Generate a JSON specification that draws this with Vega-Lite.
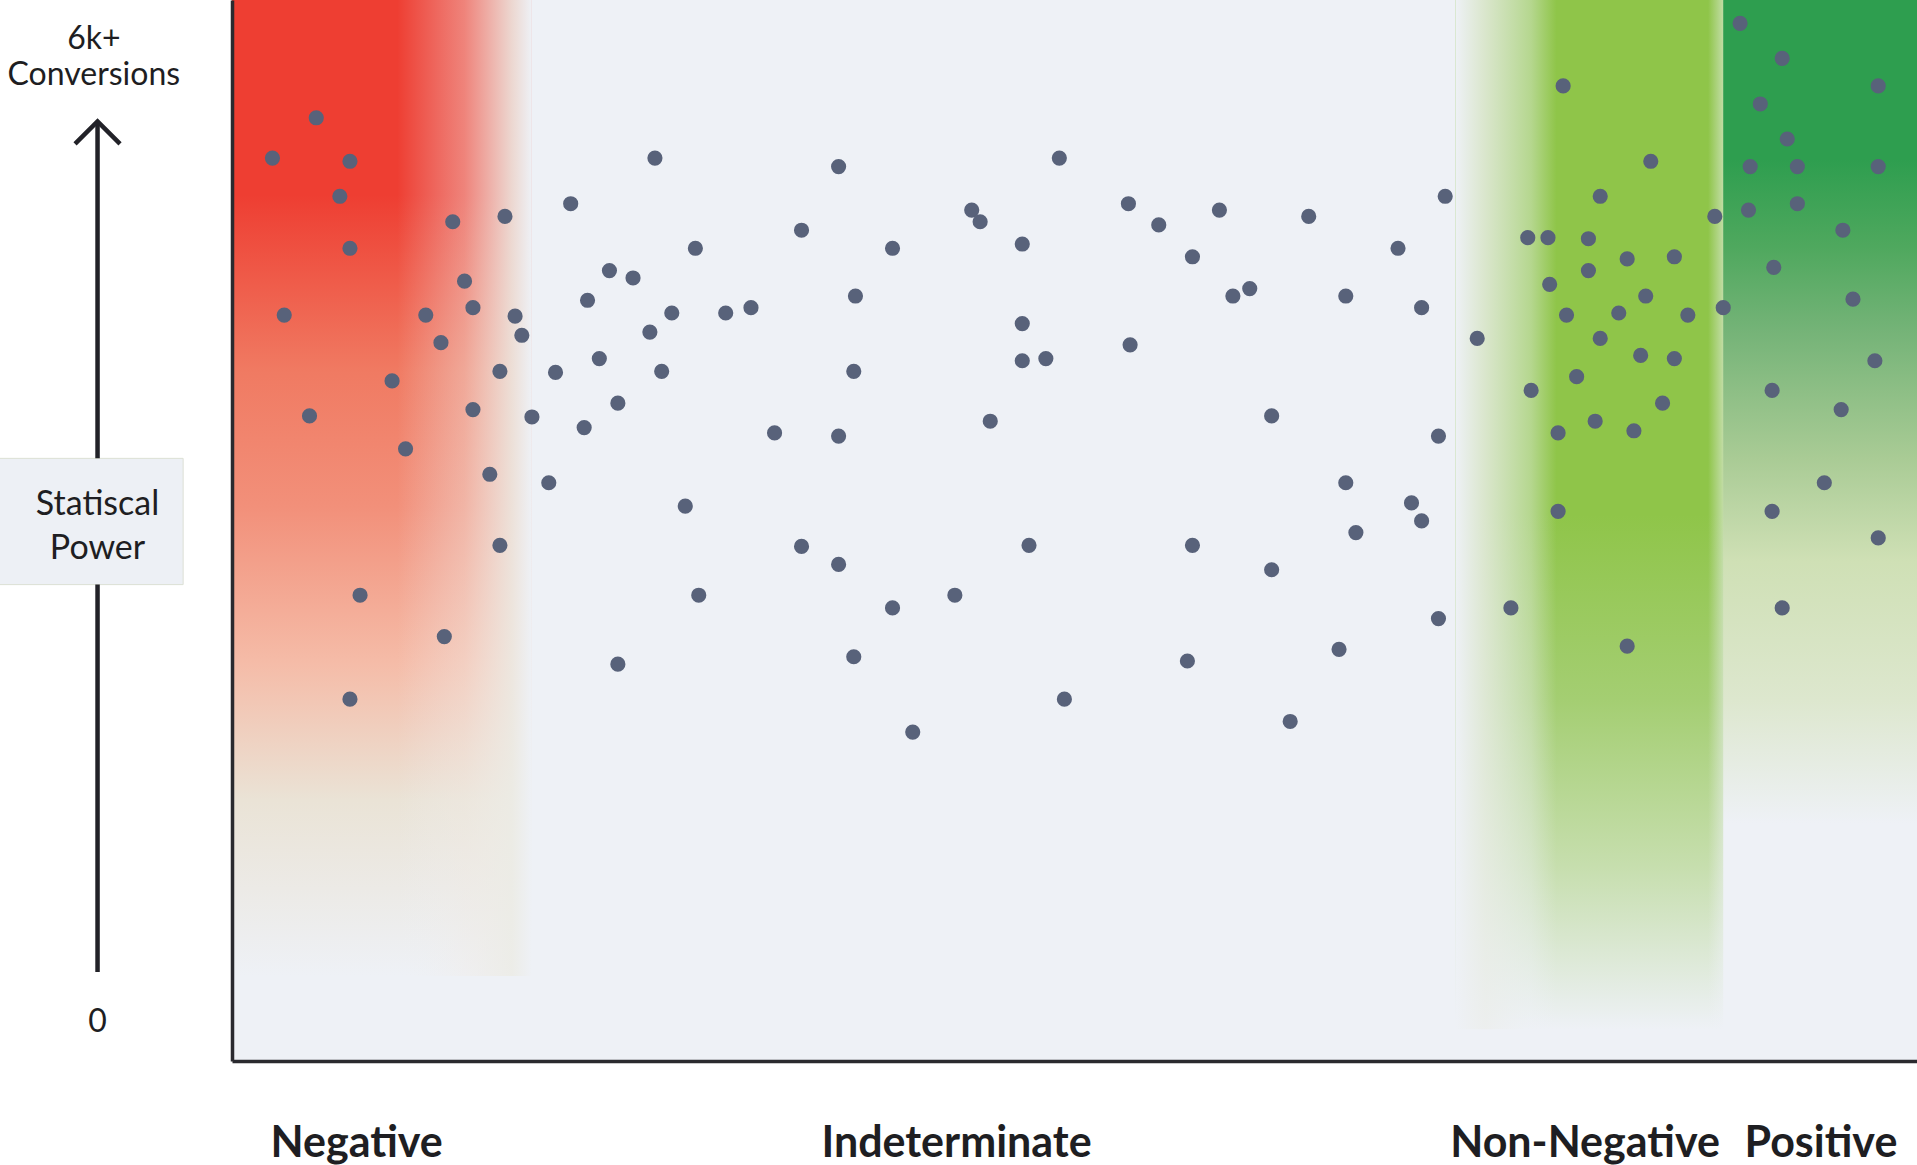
{
  "$schema": "https://vega.github.io/schema/vega-lite/v6.json",
  "width": 1685,
  "height": 1061,
  "autosize": {"type": "none"},
  "padding": {"left": 232, "top": 0, "right": 0, "bottom": 104},
  "background": "#ffffff",
  "config": {
    "view": {"stroke": null, "fill": "#EEF1F6"},
    "axis": {
      "labels": false,
      "ticks": false,
      "grid": false,
      "domainColor": "#2A2A2F",
      "domainWidth": 3.5
    },
    "text": {"font": "Lato", "color": "#1E1E22"}
  },
  "datasets": {
    "tests": [
      {"effect": 2.4, "power": 85.1}, {"effect": 5.0, "power": 88.9}, {"effect": 7.0, "power": 84.8},
      {"effect": 6.4, "power": 81.5}, {"effect": 7.0, "power": 76.6}, {"effect": 3.1, "power": 70.3},
      {"effect": 4.6, "power": 60.8}, {"effect": 9.5, "power": 64.1}, {"effect": 10.3, "power": 57.7},
      {"effect": 7.6, "power": 43.9}, {"effect": 7.0, "power": 34.1}, {"effect": 12.6, "power": 40.0},
      {"effect": 11.5, "power": 70.3}, {"effect": 12.4, "power": 67.7}, {"effect": 13.1, "power": 79.1},
      {"effect": 13.8, "power": 73.5}, {"effect": 14.3, "power": 71.0}, {"effect": 14.3, "power": 61.4},
      {"effect": 15.3, "power": 55.3}, {"effect": 15.9, "power": 65.0}, {"effect": 15.9, "power": 48.6},
      {"effect": 16.2, "power": 79.6}, {"effect": 16.8, "power": 70.2}, {"effect": 17.2, "power": 68.4},
      {"effect": 17.8, "power": 60.7}, {"effect": 18.8, "power": 54.5}, {"effect": 19.2, "power": 64.9},
      {"effect": 20.1, "power": 80.8}, {"effect": 20.9, "power": 59.7}, {"effect": 21.1, "power": 71.7},
      {"effect": 21.8, "power": 66.2}, {"effect": 22.4, "power": 74.5}, {"effect": 22.9, "power": 62.0},
      {"effect": 22.9, "power": 37.4}, {"effect": 23.8, "power": 73.8}, {"effect": 24.8, "power": 68.7},
      {"effect": 25.1, "power": 85.1}, {"effect": 25.5, "power": 65.0}, {"effect": 26.1, "power": 70.5},
      {"effect": 26.9, "power": 52.3}, {"effect": 27.5, "power": 76.6}, {"effect": 27.7, "power": 43.9},
      {"effect": 29.3, "power": 70.5}, {"effect": 30.8, "power": 71.0}, {"effect": 32.2, "power": 59.2},
      {"effect": 33.8, "power": 78.3}, {"effect": 33.8, "power": 48.5}, {"effect": 36.0, "power": 84.3},
      {"effect": 36.0, "power": 58.9}, {"effect": 36.0, "power": 46.8}, {"effect": 37.0, "power": 72.1},
      {"effect": 36.9, "power": 65.0}, {"effect": 36.9, "power": 38.1}, {"effect": 39.2, "power": 76.6},
      {"effect": 39.2, "power": 42.7}, {"effect": 40.4, "power": 31.0}, {"effect": 42.9, "power": 43.9},
      {"effect": 43.9, "power": 80.2}, {"effect": 44.4, "power": 79.1}, {"effect": 45.0, "power": 60.3},
      {"effect": 46.9, "power": 77.0}, {"effect": 46.9, "power": 69.5}, {"effect": 46.9, "power": 66.0},
      {"effect": 47.3, "power": 48.6}, {"effect": 48.3, "power": 66.2}, {"effect": 49.1, "power": 85.1},
      {"effect": 49.4, "power": 34.1}, {"effect": 53.2, "power": 80.8}, {"effect": 53.3, "power": 67.5},
      {"effect": 55.0, "power": 78.8}, {"effect": 57.0, "power": 75.8}, {"effect": 57.0, "power": 48.6},
      {"effect": 56.7, "power": 37.7}, {"effect": 58.6, "power": 80.2}, {"effect": 59.4, "power": 72.1},
      {"effect": 60.4, "power": 72.8}, {"effect": 61.7, "power": 60.8}, {"effect": 61.7, "power": 46.3},
      {"effect": 62.8, "power": 32.0}, {"effect": 63.9, "power": 79.6}, {"effect": 65.7, "power": 38.8},
      {"effect": 66.1, "power": 72.1}, {"effect": 66.1, "power": 54.5}, {"effect": 66.7, "power": 49.8},
      {"effect": 69.2, "power": 76.6}, {"effect": 70.0, "power": 52.6}, {"effect": 70.6, "power": 71.0},
      {"effect": 70.6, "power": 50.9}, {"effect": 71.6, "power": 58.9}, {"effect": 71.6, "power": 41.7},
      {"effect": 72.0, "power": 81.5}, {"effect": 73.9, "power": 68.1},
      {"effect": 75.9, "power": 42.7}, {"effect": 76.9, "power": 77.6}, {"effect": 77.1, "power": 63.2},
      {"effect": 78.1, "power": 77.6}, {"effect": 78.2, "power": 73.2}, {"effect": 78.7, "power": 59.2},
      {"effect": 78.7, "power": 51.8}, {"effect": 79.0, "power": 91.9}, {"effect": 79.2, "power": 70.3},
      {"effect": 79.8, "power": 64.5}, {"effect": 80.5, "power": 77.5}, {"effect": 80.5, "power": 74.5},
      {"effect": 80.9, "power": 60.3}, {"effect": 81.2, "power": 81.5}, {"effect": 81.2, "power": 68.1},
      {"effect": 82.3, "power": 70.5}, {"effect": 82.8, "power": 75.6}, {"effect": 82.8, "power": 39.1},
      {"effect": 83.2, "power": 59.4}, {"effect": 83.6, "power": 66.5}, {"effect": 83.9, "power": 72.1},
      {"effect": 84.2, "power": 84.8}, {"effect": 84.9, "power": 62.0}, {"effect": 85.6, "power": 75.8},
      {"effect": 85.6, "power": 66.2}, {"effect": 86.4, "power": 70.3}, {"effect": 88.0, "power": 79.6},
      {"effect": 88.5, "power": 71.0},
      {"effect": 89.5, "power": 97.8}, {"effect": 90.7, "power": 90.2}, {"effect": 92.0, "power": 94.5},
      {"effect": 90.1, "power": 84.3}, {"effect": 90.0, "power": 80.2}, {"effect": 91.5, "power": 74.8},
      {"effect": 92.3, "power": 86.9}, {"effect": 92.9, "power": 84.3}, {"effect": 92.9, "power": 80.8},
      {"effect": 91.4, "power": 63.2}, {"effect": 91.4, "power": 51.8}, {"effect": 92.0, "power": 42.7},
      {"effect": 94.5, "power": 54.5}, {"effect": 95.5, "power": 61.4}, {"effect": 95.6, "power": 78.3},
      {"effect": 96.2, "power": 71.8}, {"effect": 97.5, "power": 66.0}, {"effect": 97.7, "power": 91.9},
      {"effect": 97.7, "power": 84.3}, {"effect": 97.7, "power": 49.3}
    ]
  },
  "layer": [
    {
      "data": {"values": [{"zone": "Negative", "start": 0, "end": 17.8, "low": 8, "high": 100}]},
      "mark": {
        "type": "rect",
        "fill": {
          "gradient": "linear", "x1": 0, "y1": 0, "x2": 0, "y2": 1,
          "stops": [
            {"offset": 0, "color": "#EE3E32"},
            {"offset": 0.2, "color": "#EE3E32"},
            {"offset": 0.38, "color": "#F07A62"},
            {"offset": 0.52, "color": "#F2907A"},
            {"offset": 0.68, "color": "#F5BCA8"},
            {"offset": 0.82, "color": "#EAE3D6"},
            {"offset": 1, "color": "#EEF1F6"}
          ]
        }
      },
      "encoding": {
        "x": {"field": "start", "type": "quantitative", "scale": {"domain": [0, 100], "nice": false, "zero": false}, "title": null, "axis": {"zindex": 2}},
        "x2": {"field": "end"},
        "y": {"field": "low", "type": "quantitative", "scale": {"domain": [0, 100], "nice": false, "zero": false}, "title": null, "axis": {"zindex": 2}},
        "y2": {"field": "high"}
      }
    },
    {
      "data": {"values": [{"zone": "Negative edge", "start": 9.8, "end": 17.8, "low": 8, "high": 100}]},
      "mark": {
        "type": "rect",
        "fill": {
          "gradient": "linear", "x1": 0, "y1": 0, "x2": 1, "y2": 0,
          "stops": [
            {"offset": 0, "color": "rgba(238,241,246,0)"},
            {"offset": 0.5, "color": "rgba(240,236,232,0.4)"},
            {"offset": 0.85, "color": "rgba(236,236,230,0.88)"},
            {"offset": 1, "color": "rgba(238,241,246,1)"}
          ]
        }
      },
      "encoding": {
        "x": {"field": "start", "type": "quantitative", "title": null},
        "x2": {"field": "end"},
        "y": {"field": "low", "type": "quantitative", "title": null},
        "y2": {"field": "high"}
      }
    },
    {
      "data": {"values": [{"zone": "Non-Negative", "start": 72.6, "end": 89.3, "low": 3, "high": 100}]},
      "mark": {
        "type": "rect",
        "fill": {
          "gradient": "linear", "x1": 0, "y1": 0, "x2": 0, "y2": 1,
          "stops": [
            {"offset": 0, "color": "#8FC549"},
            {"offset": 0.5, "color": "#8FC549"},
            {"offset": 0.68, "color": "#A4CE72"},
            {"offset": 0.84, "color": "#C6DEAD"},
            {"offset": 1, "color": "#EEF1F6"}
          ]
        }
      },
      "encoding": {
        "x": {"field": "start", "type": "quantitative", "title": null},
        "x2": {"field": "end"},
        "y": {"field": "low", "type": "quantitative", "title": null},
        "y2": {"field": "high"}
      }
    },
    {
      "data": {"values": [{"zone": "Non-Negative left edge", "start": 72.6, "end": 78.6, "low": 3, "high": 100}]},
      "mark": {
        "type": "rect",
        "fill": {
          "gradient": "linear", "x1": 0, "y1": 0, "x2": 1, "y2": 0,
          "stops": [
            {"offset": 0, "color": "rgba(238,241,246,1)"},
            {"offset": 0.3, "color": "rgba(236,238,236,0.8)"},
            {"offset": 0.75, "color": "rgba(238,241,246,0.4)"},
            {"offset": 1, "color": "rgba(238,241,246,0)"}
          ]
        }
      },
      "encoding": {
        "x": {"field": "start", "type": "quantitative", "title": null},
        "x2": {"field": "end"},
        "y": {"field": "low", "type": "quantitative", "title": null},
        "y2": {"field": "high"}
      }
    },
    {
      "data": {"values": [{"zone": "Non-Negative right edge", "start": 87.6, "end": 89.3, "low": 3, "high": 100}]},
      "mark": {
        "type": "rect",
        "fill": {
          "gradient": "linear", "x1": 0, "y1": 0, "x2": 1, "y2": 0,
          "stops": [
            {"offset": 0, "color": "rgba(238,241,246,0)"},
            {"offset": 1, "color": "rgba(238,241,246,1)"}
          ]
        }
      },
      "encoding": {
        "x": {"field": "start", "type": "quantitative", "title": null},
        "x2": {"field": "end"},
        "y": {"field": "low", "type": "quantitative", "title": null},
        "y2": {"field": "high"}
      }
    },
    {
      "data": {"values": [{"zone": "Positive", "start": 88.5, "end": 100, "low": 3, "high": 100}]},
      "mark": {
        "type": "rect",
        "fill": {
          "gradient": "linear", "x1": 0, "y1": 0, "x2": 0, "y2": 1,
          "stops": [
            {"offset": 0, "color": "#2E9E4F"},
            {"offset": 0.155, "color": "#2E9E4F"},
            {"offset": 0.24, "color": "#4FA85E"},
            {"offset": 0.32, "color": "#74B377"},
            {"offset": 0.445, "color": "#A9CB95"},
            {"offset": 0.545, "color": "#CFE0B5"},
            {"offset": 0.68, "color": "#DDE7CE"},
            {"offset": 0.8, "color": "#EEF1F6"},
            {"offset": 1, "color": "#EEF1F6"}
          ]
        }
      },
      "encoding": {
        "x": {"field": "start", "type": "quantitative", "title": null},
        "x2": {"field": "end"},
        "y": {"field": "low", "type": "quantitative", "title": null},
        "y2": {"field": "high"}
      }
    },
    {
      "data": {"name": "tests"},
      "mark": {"type": "circle", "size": 230, "color": "#58627A", "opacity": 1},
      "encoding": {
        "x": {"field": "effect", "type": "quantitative", "title": null},
        "y": {"field": "power", "type": "quantitative", "title": null}
      }
    },
    {
      "data": {"values": [{"label": "Statiscal Power", "start": -13.8, "end": -2.9, "low": 44.9, "high": 56.8}]},
      "mark": {"type": "rect", "fill": "#EDF0F5", "stroke": "#DCE0D4", "strokeWidth": 1},
      "encoding": {
        "x": {"field": "start", "type": "quantitative", "title": null},
        "x2": {"field": "end"},
        "y": {"field": "low", "type": "quantitative", "title": null},
        "y2": {"field": "high"}
      }
    },
    {
      "data": {"values": [{"part": "lower", "pos": -7.98, "from": 8.4, "to": 44.9}, {"part": "upper", "pos": -7.98, "from": 56.8, "to": 88.6}]},
      "mark": {"type": "rule", "color": "#222228", "strokeWidth": 4.5},
      "encoding": {
        "x": {"field": "pos", "type": "quantitative", "title": null},
        "y": {"field": "from", "type": "quantitative", "title": null},
        "y2": {"field": "to"}
      }
    },
    {
      "data": {"values": [{"part": "head", "pos": -7.98, "at": 87.5}]},
      "mark": {"type": "point", "shape": "M-1,0.5L0,-0.5L1,0.5", "size": 2025, "filled": false, "stroke": "#222228", "strokeWidth": 4.5, "opacity": 1},
      "encoding": {
        "x": {"field": "pos", "type": "quantitative", "title": null},
        "y": {"field": "at", "type": "quantitative", "title": null}
      }
    },
    {
      "data": {"values": [
        {"text": "6k+", "pos": -8.2, "at": 96.3},
        {"text": "Conversions", "pos": -8.2, "at": 92.9},
        {"text": "0", "pos": -7.98, "at": 3.7}
      ]},
      "mark": {"type": "text", "align": "center", "baseline": "middle", "fontSize": 32},
      "encoding": {
        "x": {"field": "pos", "type": "quantitative", "title": null},
        "y": {"field": "at", "type": "quantitative", "title": null},
        "text": {"field": "text"}
      }
    },
    {
      "data": {"values": [
        {"text": "Statiscal", "pos": -7.98, "at": 52.4},
        {"text": "Power", "pos": -7.98, "at": 48.3}
      ]},
      "mark": {"type": "text", "align": "center", "baseline": "middle", "fontSize": 34},
      "encoding": {
        "x": {"field": "pos", "type": "quantitative", "title": null},
        "y": {"field": "at", "type": "quantitative", "title": null},
        "text": {"field": "text"}
      }
    },
    {
      "data": {"values": [
        {"text": "Negative", "pos": 7.4, "at": -7.8},
        {"text": "Indeterminate", "pos": 43.0, "at": -7.8},
        {"text": "Non-Negative", "pos": 80.3, "at": -7.8},
        {"text": "Positive", "pos": 94.3, "at": -7.8}
      ]},
      "mark": {"type": "text", "align": "center", "baseline": "middle", "fontSize": 43, "fontWeight": "bold"},
      "encoding": {
        "x": {"field": "pos", "type": "quantitative", "title": null},
        "y": {"field": "at", "type": "quantitative", "title": null},
        "text": {"field": "text"}
      }
    }
  ]
}
